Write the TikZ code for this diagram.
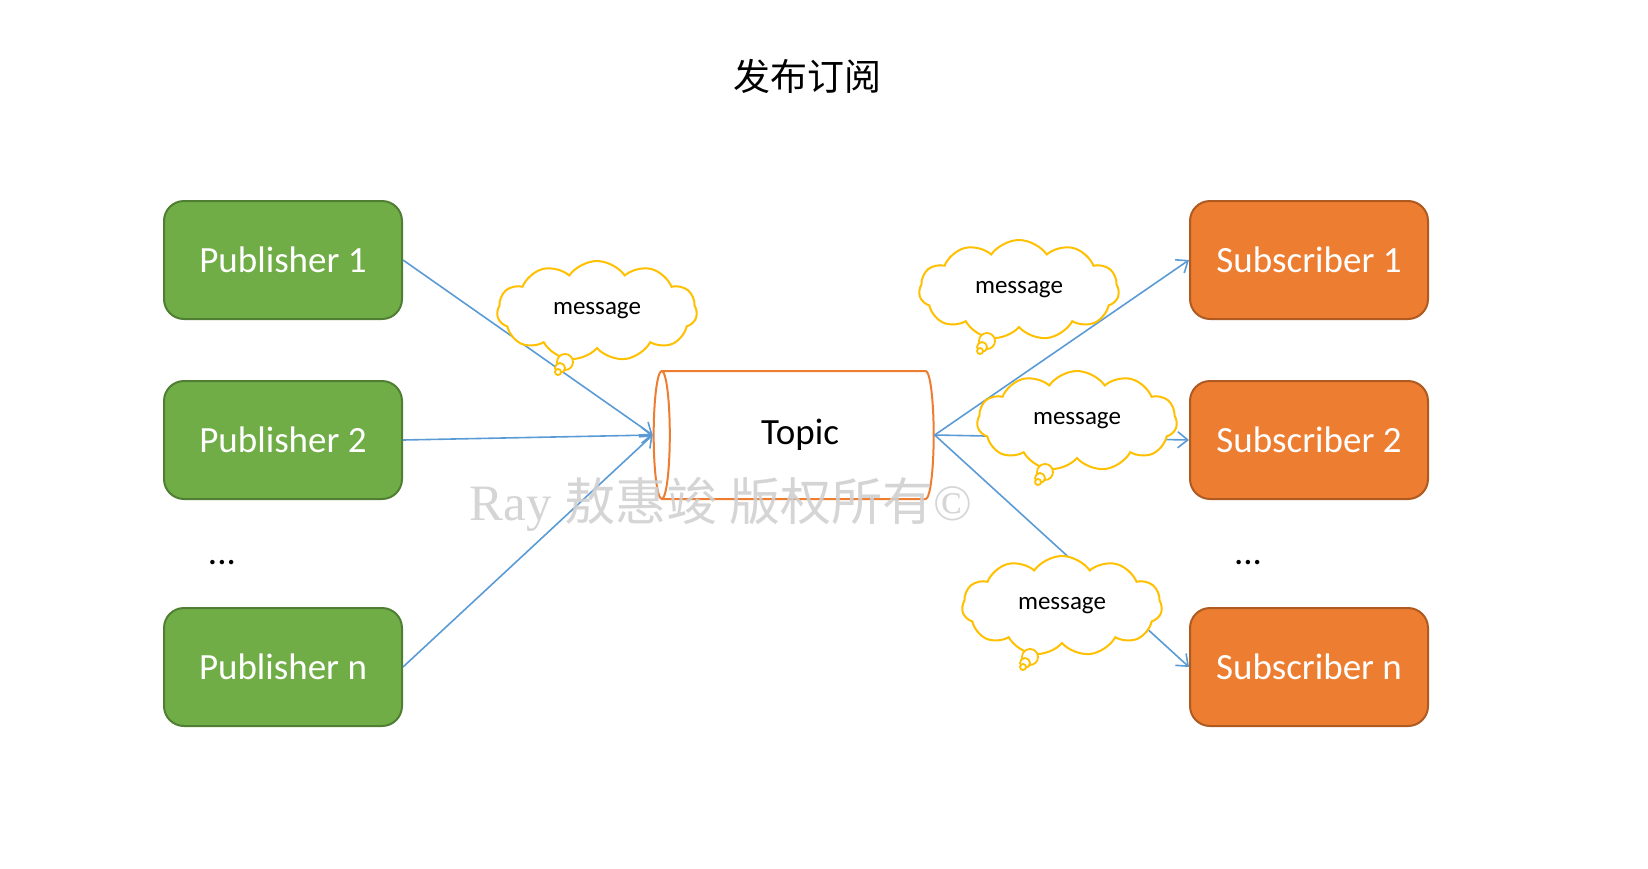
\documentclass[tikz,border=0pt]{standalone}
\usepackage{fontspec}
\setmainfont{Carlito}
\newfontfamily\cjkfont{Noto Sans CJK SC}
\newfontfamily\markfont{Liberation Serif}
\definecolor{pubgreen}{RGB}{112, 173, 71}
\definecolor{pubedge}{RGB}{80, 126, 50}
\definecolor{suborange}{RGB}{237, 125, 49}
\definecolor{subedge}{RGB}{174, 90, 33}
\definecolor{linkblue}{RGB}{91, 155, 213}
\definecolor{bubblegold}{RGB}{255, 192, 0}
\definecolor{markgray}{RGB}{208, 208, 208}
\usetikzlibrary{shapes.geometric, shapes.symbols, arrows.meta, calc}

\begin{document}
\begin{tikzpicture}[x=0.5pt, y=-0.5pt,
    pubbox/.style={rectangle, draw=pubedge, fill=pubgreen, text=white, line width=1pt, rounded corners=10pt, minimum width=119pt, minimum height=59pt, font=\fontsize{18.5}{22}\selectfont},
    subbox/.style={pubbox, draw=subedge, fill=suborange},
    link/.style={-{Straight Barb[length=5pt, width=8pt]}, linkblue, line width=0.8pt},
    bubble/.style={cloud, cloud puffs=11, cloud puff arc=110, aspect=2, draw=bubblegold, fill=white, line width=1pt, minimum width=100pt, minimum height=50pt, inner sep=0pt, font=\fontsize{12.5}{15}\selectfont},
    tail/.style={draw=bubblegold, fill=white, line width=0.9pt}]
      \useasboundingbox (0,0) rectangle (1648,868);
      \node (title) at (807,76) {\cjkfont\fontsize{18.5}{22}\selectfont 发布订阅};

      \node (pub1) [pubbox] at (283,260) {Publisher 1};
      \node (pub2) [pubbox] at (283,440) {Publisher 2};
      \node (pubdots) at (222,563) {\fontsize{18.5}{22}\selectfont ...};
      \node (pubn) [pubbox] at (283,667) {Publisher n};

      \node (sub1) [subbox] at (1309,260) {Subscriber 1};
      \node (sub2) [subbox] at (1309,440) {Subscriber 2};
      \node (subdots) at (1248,563) {\fontsize{18.5}{22}\selectfont ...};
      \node (subn) [subbox] at (1309,667) {Subscriber n};

      \node (topic) [cylinder, shape border rotate=180, aspect=0.36, draw=suborange, fill=white, line width=1pt, minimum width=64pt, minimum height=140pt, font=\fontsize{18.5}{22}\selectfont] at (800,435) {Topic};

      \draw[link] (pub1.east) -- (topic.west);
      \draw[link] (pub2.east) -- (topic.west);
      \draw[link] (pubn.east) -- (topic.west);
      \draw[link] (topic.east) -- (sub1.west);
      \draw[link] (topic.east) -- (sub2.west);
      \draw[link] (topic.east) -- (subn.west);

      % thought bubbles on the links
      \node (msg1) [bubble] at (597,311) {message};
      \node (msg2) [bubble] at (1019,290) {message};
      \node (msg3) [bubble] at (1077,421) {message};
      \node (msg4) [bubble] at (1062,606) {message};
      \foreach \m in {msg1, msg2, msg3, msg4} {
        \draw[tail] ($(\m)+(-32,51)$) circle (4pt);
        \draw[tail] ($(\m)+(-37,57)$) circle (2.5pt);
        \draw[tail] ($(\m)+(-39,61)$) circle (1.5pt);
      }

      \node (mark) [text=markgray, text opacity=0.9, font=\fontsize{25.5}{30}\selectfont] at (721,504) {\markfont Ray \cjkfont 敖惠竣 版权所有\markfont ©};
\end{tikzpicture}
\end{document}
